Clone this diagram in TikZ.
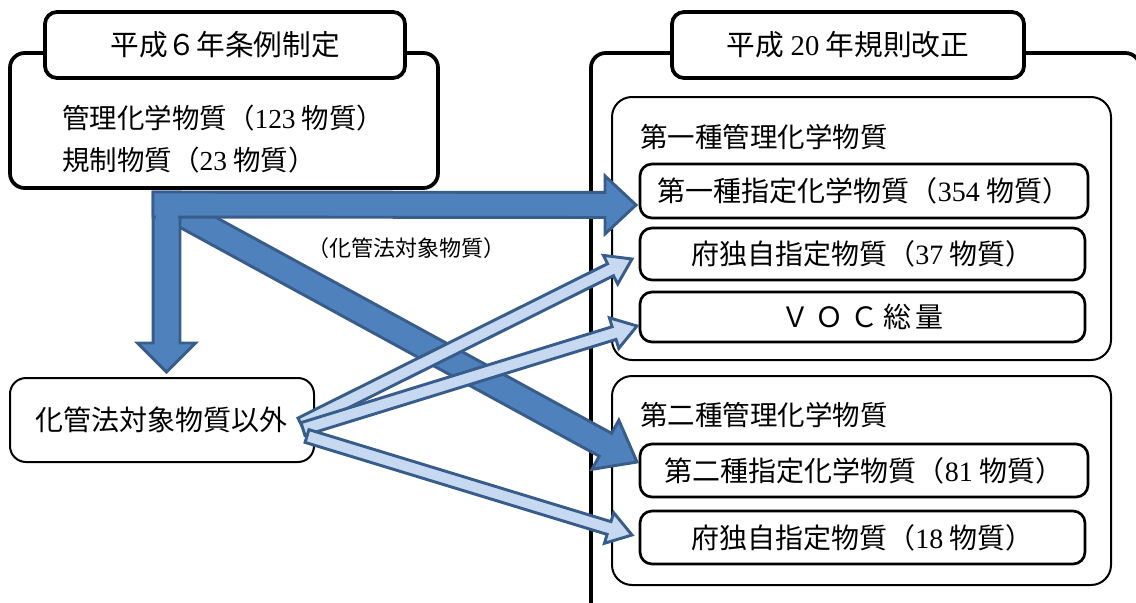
\documentclass[tikz,border=0pt]{standalone}
\usepackage{fontspec}
\setmainfont{Noto Sans CJK JP}
\newfontfamily\numf{Liberation Serif}
\usetikzlibrary{calc}
\newcommand\nm[1]{{\numf #1}}
\definecolor{darkfill}{HTML}{4F81BD}
\definecolor{lightfill}{HTML}{C6D9F1}
\definecolor{arrowedge}{HTML}{385D8A}
\newcommand\fatarrow[6]{%
  \coordinate (hb) at ($(#3)!#6!(#2)$);
  \path[#1] ($(#2)!#4!90:(#3)$) -- ($(hb)!#4!90:(#3)$) -- ($(hb)!#5!90:(#3)$) -- (#3)
    -- ($(hb)!#5!-90:(#3)$) -- ($(hb)!#4!-90:(#3)$) -- ($(#2)!#4!-90:(#3)$) -- cycle;
}
\tikzset{
  bigbox/.style={draw=black, line width=2.8pt, rounded corners=11pt, inner sep=0pt},
  titlebox/.style={draw=black, fill=white, line width=2.8pt, rounded corners=9pt, inner sep=0pt, font=\fontsize{21.5}{24}\selectfont},
  innerbox/.style={draw=black, line width=1.5pt, rounded corners=15pt, inner sep=0pt},
  subbox/.style={draw=black, line width=2pt, rounded corners=9pt, inner sep=0pt, font=\fontsize{21}{24}\selectfont},
  plainbox/.style={draw=black, line width=1.5pt, rounded corners=12pt, inner sep=0pt, font=\fontsize{21}{24}\selectfont},
  body/.style={font=\fontsize{20.6}{24}\selectfont, inner sep=0pt, anchor=west},
  small/.style={font=\fontsize{16.5}{18}\selectfont, inner sep=0pt},
  darkarrow/.style={fill=darkfill, draw=arrowedge, line width=2.2pt, line join=miter},
  lightarrow/.style={fill=lightfill, draw=arrowedge, line width=2.2pt, line join=miter},
}
\begin{document}
\begin{tikzpicture}[x=0.75pt,y=-0.75pt]
\useasboundingbox (0,0) rectangle (1136,603);
\clip (0,0) rectangle (1136,603);

% left group
\node[bigbox, minimum width=321pt, minimum height=101.25pt] (leftouter) at (224,120.5) {};
\node[titlebox, minimum width=270pt, minimum height=49.5pt] (lefttitle) at (225,45) {平成６年条例制定};
\node[body] (t1) at (62,118) {管理化学物質（\nm{123} 物質）};
\node[body] (t2) at (62,160) {規制物質（\nm{23} 物質）};

\node[plainbox, minimum width=228pt, minimum height=63pt] (other) at (162,420) {化管法対象物質以外};

% right group
\draw[line width=2.8pt, rounded corners=11pt] (591,650) -- (591,53) -- (1140,53) -- (1140,650);
\node[titlebox, minimum width=264pt, minimum height=49.5pt] (righttitle) at (848,45) {平成 \nm{20} 年規則改正};

\node[innerbox, minimum width=374.25pt, minimum height=197.25pt] (inner1) at (861.5,228.5) {};
\node[body] (l1) at (640,137) {第一種管理化学物質};
\node[subbox, minimum width=336pt, minimum height=40.5pt] (s1) at (864,191) {第一種指定化学物質（\nm{354} 物質）\hspace{6pt}};
\node[subbox, minimum width=333.75pt, minimum height=39pt] (s2) at (862.5,254) {府独自指定物質（\nm{37} 物質）\hspace{22pt}};
\node[subbox, minimum width=333.75pt, minimum height=37.5pt] (s3) at (862.5,317) {Ｖ\hspace{5pt}Ｏ\hspace{5pt}Ｃ\hspace{4pt}総\hspace{3pt}量\hspace{18pt}};

\node[innerbox, minimum width=374.25pt, minimum height=156.75pt] (inner2) at (861.5,480.5) {};
\node[body] (l2) at (640,415) {第二種管理化学物質};
\node[subbox, minimum width=336pt, minimum height=39.75pt] (s4) at (864,470.5) {第二種指定化学物質（\nm{81} 物質）};
\node[subbox, minimum width=333.75pt, minimum height=39.75pt] (s5) at (862.5,537.5) {府独自指定物質（\nm{18} 物質）\hspace{4pt}};

\node[small] (lab) at (406,248) {（化管法対象物質）};

% arrow end points
\coordinate (hT) at (153,204.5);
\coordinate (hH) at (636,205);
\coordinate (vT) at (166.5,192);
\coordinate (vH) at (166.5,372);
\coordinate (dT) at (168,206);
\coordinate (dH) at (637,462);
\coordinate (aT) at (301,424);
\coordinate (aH) at (632,259);
\coordinate (bT) at (303,429);
\coordinate (bH) at (637,326);
\coordinate (cT) at (307,436);
\coordinate (cH) at (632,535);

% dark arrows
\fatarrow{darkarrow}{dT}{dH}{9.75pt}{21pt}{27pt}
\fatarrow{darkarrow}{vT}{vH}{10.1pt}{21.75pt}{21.75pt}
\fatarrow{darkarrow}{hT}{hH}{9.4pt}{21.75pt}{23.25pt}
\fill[darkfill] (155.5,213) rectangle (177.8,219.5);

% light arrows
\fatarrow{lightarrow}{aT}{aH}{5pt}{12pt}{18pt}
\fatarrow{lightarrow}{bT}{bH}{5pt}{12pt}{18pt}
\fatarrow{lightarrow}{cT}{cH}{5pt}{12pt}{18pt}
\end{tikzpicture}
\end{document}
